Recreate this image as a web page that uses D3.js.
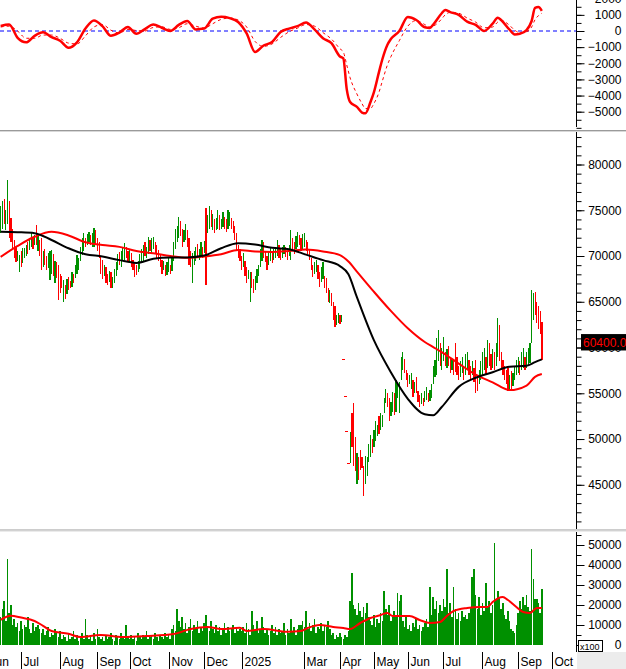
<!DOCTYPE html>
<html><head><meta charset="utf-8">
<script src="https://cdn.jsdelivr.net/npm/d3@7"></script>
<style>body{margin:0;background:#fff}svg{display:block}</style>
</head><body><svg id="c" width="626" height="669"></svg>
<script>
// ---------------- DATA ----------------
const firstDate = "2024-06-13";
const holidays = ["2024-09-02","2024-09-03","2025-01-01","2025-01-27","2025-01-28","2025-01-29","2025-01-30","2025-01-31","2025-04-07","2025-04-30","2025-05-01","2025-05-02","2025-09-01","2025-09-02"];
const monthKeys = ["2024-06","2024-07","2024-08","2024-09","2024-10","2024-11","2024-12","2025-01","2025-03","2025-04","2025-05","2025-06","2025-07","2025-08","2025-09","2025-10"];
const monthLabels = ["Jun","Jul","Aug","Sep","Oct","Nov","Dec","2025","Mar","Apr","May","Jun","Jul","Aug","Sep","Oct"];

// daily bars (price in thousands)
const priceLow = [
72.5,73.0,73.5,72.8,73.5,72.0,71.5,70.9,69.8,69.3,
69.5,68.3,68.8,69.2,69.8,70.0,70.2,70.7,71.0,70.8,
71.2,71.2,70.5,70.0,68.5,68.8,69.0,68.5,68.7,67.4,
68.0,67.8,67.0,67.6,65.2,66.0,66.5,65.0,65.3,65.8,
66.3,66.5,66.6,67.0,67.6,68.0,68.5,69.5,70.1,70.5,
71.0,71.2,71.5,71.2,71.0,71.0,71.3,70.5,69.8,68.0,
67.5,67.8,67.0,66.8,67.2,66.5,66.5,67.0,67.8,68.5,
69.0,68.8,69.5,69.6,69.8,69.5,69.2,68.8,68.5,67.7,
67.9,68.3,68.6,69.3,69.5,70.0,69.8,70.2,70.5,70.3,
70.8,70.2,69.8,69.5,68.8,68.0,68.5,67.8,67.9,68.2,
68.0,68.4,69.5,70.8,71.5,72.0,72.2,71.0,71.5,71.8,
71.0,69.0,68.8,67.1,69.0,69.5,69.8,69.6,70.0,69.8,
70.3,66.8,72.5,73.0,73.2,72.8,72.5,72.8,73.0,72.8,
72.9,73.2,73.0,72.6,73.0,73.3,73.0,72.5,71.8,70.5,
69.8,69.5,68.5,68.8,67.8,67.1,67.5,65.0,66.5,66.0,
66.3,67.0,67.8,68.8,69.5,69.8,69.3,68.5,69.0,69.5,
69.2,69.6,69.8,70.0,69.8,69.6,69.8,70.2,69.9,69.6,
70.0,69.6,70.5,70.2,70.8,71.0,71.2,70.5,70.8,71.0,
70.5,70.2,69.6,68.5,67.7,68.0,68.3,67.5,66.6,67.2,
67.5,66.5,66.0,65.0,64.9,64.5,63.0,62.2,62.5,62.7,
62.6,62.8,58.8,54.7,50.9,47.4,47.4,49.1,47.1,46.5,
45.1,45.5,46.6,46.8,43.8,45.1,46.0,47.5,48.0,48.5,
49.1,49.8,50.3,50.6,51.0,51.3,52.8,53.9,53.5,52.0,
52.5,53.0,52.6,53.0,54.5,52.8,56.5,57.5,57.2,56.5,
55.7,56.0,55.5,54.6,55.0,55.0,54.0,53.5,53.8,53.6,
54.0,54.3,54.0,54.2,54.5,56.0,56.8,57.0,58.5,58.0,
57.5,58.5,58.0,57.8,58.0,57.2,57.5,57.0,57.3,57.0,
56.5,56.8,57.2,56.5,57.0,57.5,57.0,56.5,57.0,56.2,
55.0,55.2,56.0,56.5,57.0,57.5,57.0,57.8,58.0,57.5,
57.8,57.5,58.0,59.0,58.5,57.5,57.0,56.5,56.0,55.3,
55.5,55.4,55.8,56.5,57.0,57.2,57.0,57.5,57.8,57.5,
57.8,58.0,58.3,60.5,63.0,63.5,62.7,62.0,61.5,58.6];
const priceHigh = [
75.5,76.0,76.2,75.0,78.3,76.0,74.2,73.0,71.8,71.0,
70.6,70.1,70.5,70.9,70.9,71.2,71.5,72.0,72.5,72.0,
72.3,73.4,72.3,71.8,72.0,70.5,70.8,70.0,70.3,70.5,
70.7,70.2,69.5,69.3,69.0,68.0,67.8,67.4,66.8,67.5,
67.7,67.3,68.3,68.0,69.0,70.1,69.8,71.0,72.0,72.5,
72.0,72.4,72.6,72.3,72.5,73.1,72.8,72.0,71.5,70.0,
69.6,69.0,68.8,68.0,68.4,68.2,67.7,68.6,69.3,70.2,
70.4,70.6,71.0,71.4,71.0,70.5,70.8,70.3,69.6,69.3,
69.0,69.5,70.2,70.8,71.2,71.5,71.0,72.1,71.8,72.0,
72.1,71.5,71.2,70.7,70.2,69.6,69.5,69.0,69.3,69.8,
69.0,70.0,71.5,73.0,73.3,74.3,73.8,73.0,72.8,73.5,
72.8,72.0,70.5,70.3,70.5,71.0,71.3,70.8,71.5,71.0,
71.6,75.2,74.5,75.5,75.0,74.6,74.0,74.2,75.0,74.5,
74.0,74.8,74.3,74.0,75.0,74.8,74.2,73.8,73.3,72.5,
71.2,70.8,70.0,70.3,69.5,68.8,68.5,68.2,68.2,67.5,
67.8,68.6,69.0,70.8,71.8,71.5,70.5,70.0,70.6,71.0,
70.5,70.8,71.0,71.8,71.2,70.8,71.0,71.2,71.0,70.5,
71.2,72.8,72.0,71.5,72.2,72.6,72.3,72.0,72.4,72.5,
71.8,71.5,70.8,69.8,69.0,69.3,69.6,69.0,68.2,68.8,
69.3,67.8,67.6,66.5,66.3,66.0,65.0,64.5,63.5,63.8,
63.5,63.6,58.8,54.7,50.9,47.4,50.8,52.9,53.9,50.2,
48.5,48.0,48.8,48.0,47.0,48.2,48.0,49.5,50.4,50.0,
51.0,52.0,51.5,52.5,52.9,52.6,54.5,55.5,55.0,54.5,
54.0,55.1,55.0,56.4,56.0,56.2,59.0,59.5,58.8,57.5,
57.2,57.0,57.2,56.5,56.2,56.8,55.3,54.8,55.0,54.5,
55.2,55.7,55.0,55.4,56.0,58.0,58.6,61.0,61.9,60.5,
60.0,61.2,59.5,59.8,60.2,59.0,58.8,58.5,60.5,59.0,
58.0,58.5,59.0,58.0,59.3,59.5,58.6,58.0,58.5,57.8,
58.6,57.0,57.5,58.5,59.5,60.0,59.0,60.8,60.5,59.3,
59.8,59.5,60.5,63.2,62.5,59.5,58.6,58.0,57.5,57.8,
57.0,57.4,57.2,58.0,58.6,59.0,58.5,59.5,60.0,59.0,
59.5,60.0,60.5,66.3,66.0,66.1,65.0,64.5,64.0,62.8];
const barDir = "uuduuddddd"+"uuduuuduud"+"ududdudduu"+"ududdddudu"+"dduduuuuuu"+
"duuduudddd"+"dudduduuuu"+"duuudduddd"+"duuuuduudu"+"uddddduduu"+
"duuuuudduu"+"ddduuuduud"+"uduududuud"+"uudduudddd"+"dddudduudd"+
"uuuuuddduu"+"duuudduudd"+"uudduudduu"+"ddddduuddu"+"uddduddduu"+
"dudddduddd"+"udddduuuud"+"uuuduuuudd"+"uuduuuuudd"+"duududddud"+
"uuduuuuuud"+"uududduddd"+"duuduuddud"+"dduuuududd"+"uduudddddd"+
"uduuuuduud"+"uuuuuddddd";
const lastClose = 60400;

// volume (thousands of x100 units)
const volume = [
14,18,22,12,43,16,20,10,13,
9,11,7,12,8,10,9,14,8,6,11,7,9,10,8,
6,8,5,7,9,4,6,5,8,6,4,7,
3,5,4,2,6,3,4,7,3,5,2,4,6,3,13,5,3,4,2,6,3,8,4,
3,4,2,5,3,4,6,3,2,5,4,3,6,4,3,10,4,3,
5,3,4,2,6,4,3,5,4,7,3,4,5,3,6,4,2,5,4,3,6,4,5,3,
8,10,7,18,12,9,14,8,11,6,9,13,7,10,8,12,6,9,7,11,
15,9,7,12,8,6,10,7,9,5,8,11,6,9,7,8,10,6,9,7,8,
7,9,6,11,8,5,17,10,7,12,6,8,14,9,6,8,5,7,10,6,9,5,8,6,7,11,5,8,6,13,7,9,5,8,10,
10,12,9,17,8,11,7,10,13,6,9,8,11,7,10,9,12,8,5,6,3,5,4,
6,4,3,5,4,7,
22,36,20,18,15,21,17,14,19,16,
21,14,12,10,15,9,13,11,16,12,
27,18,15,20,12,14,17,
14,26,22,25,
12,9,14,8,10,7,11,9,13,8,10,7,9,
11,13,9,29,15,
24,18,22,16,20,17,23,19,38,
16,21,14,29,18,13,16,12,17,14,15,13,
16,19,34,38,25,
18,24,15,21,
17,31,19,22,16,
20,51,23,27,
24,18,21,15,13,17,12,
8,7,6,10,
16,22,18,24,20,25,19,17,
48,33,23,23,21,16,28];

// moving averages of price (thousands), read at these bar numbers
const maDays = [0,10,20,30,40,50,60,70,80,90,100,110,120,130,140,150,160,170,180,190,200,205,210,220,230,240,250,255,260,270,280,290,300,310,315,319];
const maShort = [72.65,72.6,72.5,71.75,70.85,70.2,69.95,69.55,69.25,69.7,69.85,69.85,70.05,70.85,71.4,71.25,70.9,70.75,70.15,69.55,68.9,68.0,65.5,60.8,57.3,54.4,52.7,52.6,53.5,55.7,56.7,57.3,57.9,58.0,58.4,58.7];
const maLong = [69.9,71.1,72.1,72.65,72.25,71.5,71.2,71.0,70.55,70.3,70.0,69.8,69.95,70.2,70.65,70.5,70.45,70.55,70.7,70.5,70.1,69.4,68.3,66.1,64.0,62.1,60.6,60.05,59.5,58.25,57.05,56.2,55.35,55.85,56.8,57.1];

// oscillator (top panel)
const oscDays = [0,5,10,15,20,25,30,35,40,45,50,55,60,65,70,75,80,85,90,95,100,105,110,115,120,125,130,135,140,145,150,155,160,165,170,175,180,185,190,195,200,202,204,206,210,213,215,218,220,223,225,228,230,235,240,245,250,253,255,260,262,265,270,275,280,285,290,293,295,300,303,306,310,313,315,317,319];
const oscMain = [310,400,-420,-700,-300,-80,-380,-600,-1040,-700,150,650,300,-300,-100,250,-170,120,400,200,0,380,620,100,150,760,880,800,560,-150,-1300,-900,-680,-60,150,300,530,100,-450,-750,-1580,
-1700,-3600,-4400,-4700,-5050,-5100,-4400,-3800,-2550,-1750,-850,-500,0,870,680,230,190,400,1100,1300,1170,1000,580,380,0,460,820,680,80,-210,-170,60,620,1430,1480,1240];
const oscSignal = [250,300,0,-450,-450,-250,-250,-450,-750,-800,-300,250,400,50,-120,100,30,0,220,260,100,200,450,300,180,450,720,800,680,250,-650,-950,-800,-400,-50,180,400,300,-100,-500,-1100,
-1300,-2100,-2900,-3900,-4500,-4800,-4800,-4500,-3800,-3100,-2100,-1600,-600,300,650,400,250,300,750,1000,1150,1100,800,550,200,250,550,650,350,50,-100,-50,250,700,950,1100];

// volume moving average
const volMaDays = [0,6,12,20,25,30,40,47,59,72,86,102,112,122,130,141,145,155,169,177,181,188,196,202,206,212,218,224,228,231,241,247,253,259,263,267,275,283,287,290,296,299,304,308,312,316,319];
const volMa = [12.6,14.6,13.7,12.0,9.6,7.0,5.6,4.0,5.0,4.0,4.5,5.5,8.0,9.0,8.0,8.6,7.0,8.0,6.6,7.0,8.5,10.0,9.0,8.5,8.0,11.0,13.5,15.0,16.0,14.5,14.5,12.5,11.0,11.5,14.5,17.0,18.5,19.0,19.0,21.5,24.0,22.5,19.0,16.5,16.0,18.5,18.5];

// ---------------- DRAWING ----------------
const FONT = '"Liberation Sans", Arial, sans-serif';
const AX = 576.5;
const GREEN = "#009000", RED = "#ff0000";
const svg = d3.select("#c");

// trading calendar
const days = [];
for (let d = new Date(Date.UTC(2024,5,3)); d <= new Date(Date.UTC(2025,9,31)); d.setUTCDate(d.getUTCDate()+1)) {
  const wd = d.getUTCDay(); const s = d.toISOString().slice(0,10);
  if (wd > 0 && wd < 6 && !holidays.includes(s)) days.push(s);
}
const iOf = s => days.indexOf(s);
const startIdx = iOf(firstDate);
const x = d3.scaleLinear().domain([iOf("2024-07-01"), iOf("2025-10-01")]).range([21, 552]);
const xk = k => x(startIdx + k);

const yOsc = d3.scaleLinear().domain([-5000, 0]).range([111.7, 31]);
const yP = d3.scaleLinear().domain([45, 80]).range([484.8, 164.5]);
const yV = d3.scaleLinear().domain([0, 50]).range([645, 545]);

const defs = svg.append("defs");
function clip(id, y0, h) { defs.append("clipPath").attr("id", id).append("rect").attr("x",0).attr("y",y0).attr("width",AX).attr("height",h); }
clip("cTop", 0, 129); clip("cMain", 132, 397); clip("cVol", 532, 120);

// separators
[[130,"#9a9a9a"],[131,"#d8d8d8"],[529.5,"#9a9a9a"],[530.5,"#d8d8d8"]].forEach(([yy,c])=>{
  svg.append("line").attr("x1",0).attr("x2",626).attr("y1",yy+0.5).attr("y2",yy+0.5).attr("stroke",c);
});

// right axes
function drawAxis(scale, minor, major, fmt, y0, y1) {
  svg.append("line").attr("x1",AX).attr("x2",AX).attr("y1",y0).attr("y2",y1).attr("stroke","#000");
  const g1 = svg.append("g").attr("transform",`translate(${AX},0)`)
    .call(d3.axisRight(scale).tickValues(minor).tickSize(5).tickFormat(""));
  g1.select(".domain").remove(); g1.selectAll("line").attr("stroke","#000");
  const g2 = svg.append("g").attr("transform",`translate(${AX},0)`)
    .call(d3.axisRight(scale).tickValues(major).tickSize(8).tickFormat(fmt));
  g2.select(".domain").remove(); g2.selectAll("line").attr("stroke","#000");
  g2.attr("font-size",12).attr("font-family",FONT);
  g2.selectAll("text").attr("x",45).attr("text-anchor","end").attr("fill","#000");
}
const within = (sc, a, b) => v => sc(v) >= a && sc(v) <= b;
drawAxis(yOsc, d3.range(-6000, 2501, 500).filter(within(yOsc,0,128)), d3.range(-5000,2001,1000), d3.format("d"), 0, 127);
drawAxis(yP, d3.range(40, 85, 1).filter(within(yP,133,529)), d3.range(45, 81, 5), d => d3.format("d")(d*1000), 132, 529);
drawAxis(yV, d3.range(0, 56, 5).filter(within(yV,533,652)), d3.range(0, 51, 10), d => d3.format("d")(d*1000), 532, 652);

// ---- top oscillator
const topG = svg.append("g").attr("clip-path","url(#cTop)");
topG.append("line").attr("x1",0).attr("x2",AX).attr("y1",yOsc(0)).attr("y2",yOsc(0))
  .attr("stroke","#0000ff").attr("stroke-width",1).attr("stroke-dasharray","4,3");
const oscLine = arr => d3.line().x((d,i)=>xk(oscDays[i])).y(d=>yOsc(d)).curve(d3.curveMonotoneX)(arr);
topG.append("path").attr("d", oscLine(oscSignal)).attr("fill","none").attr("stroke",RED).attr("stroke-width",1).attr("stroke-dasharray","3,3");
topG.append("path").attr("d", oscLine(oscMain)).attr("fill","none").attr("stroke",RED).attr("stroke-width",2.5);

// ---- main price panel
const mainG = svg.append("g").attr("clip-path","url(#cMain)");
const bars = d3.range(priceLow.length);
mainG.append("g").attr("shape-rendering","crispEdges").selectAll("rect").data(bars).join("rect")
  .attr("x", k => priceLow[k] === priceHigh[k] ? xk(k)-1.5 : xk(k)-0.5)
  .attr("width", k => priceLow[k] === priceHigh[k] ? 3 : 1.2)
  .attr("y", k => yP(priceHigh[k]))
  .attr("height", k => Math.max(1, yP(priceLow[k]) - yP(priceHigh[k])))
  .attr("fill", k => barDir[k] === "u" ? GREEN : RED);
const maLine = arr => d3.line().x((d,i)=>xk(maDays[i])).y(d=>yP(d)).curve(d3.curveMonotoneX)(arr);
mainG.append("path").attr("d", maLine(maLong)).attr("fill","none").attr("stroke",RED).attr("stroke-width",2);
mainG.append("path").attr("d", maLine(maShort)).attr("fill","none").attr("stroke","#000").attr("stroke-width",2);

// last price tag
const yl = yP(lastClose/1000);
svg.append("rect").attr("x",581).attr("y",yl-9.8).attr("width",45).attr("height",16.4).attr("fill","#000");
svg.append("text").attr("x",583).attr("y",yl+3.6).attr("font-size",12).attr("font-family",FONT)
  .attr("fill",RED).text(d3.format(".2f")(lastClose));

// ---- volume panel
const volG = svg.append("g").attr("clip-path","url(#cVol)");
volG.append("g").attr("shape-rendering","crispEdges").selectAll("rect").data(volume).join("rect")
  .attr("x",(d,k)=>xk(k)-0.8).attr("width",1.6)
  .attr("y",d=>yV(d)).attr("height",d=>yV(0)-yV(d)).attr("fill",GREEN);
volG.append("path").attr("d", d3.line().x((d,i)=>xk(volMaDays[i])).y(d=>yV(d)).curve(d3.curveMonotoneX)(volMa))
  .attr("fill","none").attr("stroke",RED).attr("stroke-width",2);

// x100 box
svg.append("rect").attr("x",578.5).attr("y",640.5).attr("width",24).attr("height",11).attr("fill","#fff").attr("stroke","#000");
svg.append("text").attr("x",580).attr("y",649.5).attr("font-size",9).attr("font-family",FONT).attr("fill","#000").text("x100");

// bottom strip
svg.append("rect").attr("x",577).attr("y",652).attr("width",49).attr("height",17).attr("fill","#ececec");
const monthIdx = monthKeys.map(m => days.findIndex(d => d.startsWith(m)));
const xa = svg.append("g").attr("transform","translate(0,652)")
  .call(d3.axisBottom(x).tickValues(monthIdx).tickSize(17).tickFormat((d,i)=>monthLabels[i]));
xa.select(".domain").remove();
xa.attr("font-size",12).attr("font-family",FONT);
xa.selectAll(".tick").attr("transform", d => `translate(${Math.round(x(d))+0.5},0)`);
xa.selectAll("line").attr("stroke","#000");
xa.selectAll("text").attr("x",2).attr("y",14).attr("dy",null).attr("text-anchor","start").attr("fill","#000");
</script></body></html>
